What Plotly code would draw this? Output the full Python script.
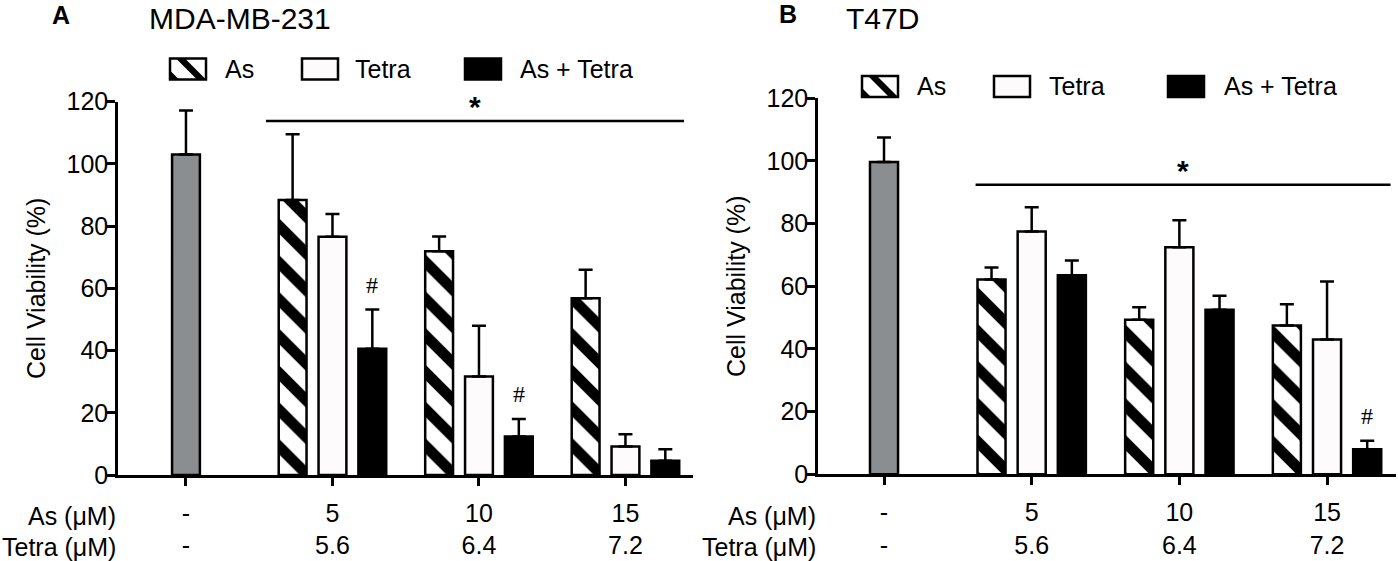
import plotly.graph_objects as go

# ---------------- data ----------------
as_doses = ["-", "5", "10", "15"]
tetra_doses = ["-", "5.6", "6.4", "7.2"]
series_names = ["As", "Tetra", "As + Tetra"]

# Panel A : MDA-MB-231
a_ctrl_mean = [103.0]
a_ctrl_err = [14.2]
a_as_mean = [88.4, 71.9, 56.8]
a_as_err = [21.1, 4.8, 9.2]
a_tetra_mean = [76.6, 31.7, 9.2]
a_tetra_err = [7.3, 16.3, 3.9]
a_combo_mean = [40.6, 12.4, 4.6]
a_combo_err = [12.6, 5.6, 3.7]
a_hash_groups = [0, 1]          # combination bars marked with '#'

# Panel B : T47D
b_ctrl_mean = [99.7]
b_ctrl_err = [7.8]
b_as_mean = [62.2, 49.3, 47.5]
b_as_err = [3.8, 4.0, 6.8]
b_tetra_mean = [77.5, 72.5, 43.0]
b_tetra_err = [7.7, 8.6, 18.5]
b_combo_mean = [63.5, 52.5, 8.0]
b_combo_err = [4.7, 4.5, 2.7]
b_hash_groups = [2]

y_ticks = [0, 20, 40, 60, 80, 100, 120]

# ---------------- style ----------------
W, H = 1398, 561
FONT = "Liberation Sans, Arial, Helvetica, sans-serif"
FS = 25
LW = 2.5
BAR_W = 0.19
STEP = 0.272
GRAY = "#8b8e90"
WHITE = "#fdfbfb"

cats = [f"{a}<br>{t}" for a, t in zip(as_doses, tetra_doses)]


def px(x):
    return x / W


def py(y):
    return 1 - y / H


fig = go.Figure()


def add_panel(xa, ya, ctrl_m, ctrl_e, as_m, as_e, te_m, te_e, co_m, co_e):
    err = lambda e: dict(type="data", array=e, arrayminus=[0] * len(e), symmetric=False,
                         color="black", thickness=LW, width=7)
    line = dict(color="black", width=LW)
    fig.add_bar(x=cats[:1], y=ctrl_m, error_y=err(ctrl_e), width=BAR_W, offset=-BAR_W / 2,
                marker=dict(color=GRAY, line=line), xaxis=xa, yaxis=ya, name="Control",
                showlegend=False)
    fig.add_bar(x=cats[1:], y=as_m, error_y=err(as_e), width=BAR_W, offset=-STEP - BAR_W / 2,
                marker=dict(color="white", line=line,
                            pattern=dict(shape="\\", fgcolor="black", bgcolor="white",
                                         fillmode="replace", fgopacity=1,
                                         size=26, solidity=0.42)),
                xaxis=xa, yaxis=ya, name=series_names[0], showlegend=False)
    fig.add_bar(x=cats[1:], y=te_m, error_y=err(te_e), width=BAR_W, offset=-BAR_W / 2,
                marker=dict(color=WHITE, line=line), xaxis=xa, yaxis=ya,
                name=series_names[1], showlegend=False)
    fig.add_bar(x=cats[1:], y=co_m, error_y=err(co_e), width=BAR_W, offset=STEP - BAR_W / 2,
                marker=dict(color="black", line=line), xaxis=xa, yaxis=ya,
                name=series_names[2], showlegend=False)


add_panel("x", "y", a_ctrl_mean, a_ctrl_err, a_as_mean, a_as_err,
          a_tetra_mean, a_tetra_err, a_combo_mean, a_combo_err)
add_panel("x2", "y2", b_ctrl_mean, b_ctrl_err, b_as_mean, b_as_err,
          b_tetra_mean, b_tetra_err, b_combo_mean, b_combo_err)

xcommon = dict(type="category", categoryorder="array", categoryarray=cats,
               tickmode="array", tickvals=cats, ticktext=cats, automargin=False,
               showline=True, linecolor="black", linewidth=LW, ticks="outside",
               ticklen=8, tickwidth=LW, tickcolor="black", showgrid=False, zeroline=False,
               tickfont=dict(family=FONT, size=FS, color="black"), ticklabelstandoff=6,
               fixedrange=True)
ycommon = dict(range=[0, 120], tickmode="array", tickvals=y_ticks, showline=True,
               automargin=False,
               linecolor="black", linewidth=LW, ticks="outside", ticklen=8, tickwidth=LW,
               tickcolor="black", showgrid=False, zeroline=False,
               tickfont=dict(family=FONT, size=FS, color="black"), ticklabelstandoff=-6,
               title=dict(text="Cell Viability (%)", font=dict(family=FONT, size=FS, color="black"),
                          standoff=14),
               fixedrange=True)

fig.update_layout(
    template="none",
    width=W, height=H, margin=dict(l=0, r=0, t=0, b=0, pad=0), autosize=False,
    paper_bgcolor="white", plot_bgcolor="white", barmode="overlay", showlegend=False,
    font=dict(family=FONT, size=FS, color="black"),
    xaxis=dict(xcommon, domain=[px(118), px(693)], range=[-0.464, 3.461], anchor="y"),
    yaxis=dict(ycommon, domain=[py(475), py(101.7)], anchor="x"),
    xaxis2=dict(xcommon, domain=[px(818), px(1396)], range=[-0.447, 3.467], anchor="y2"),
    yaxis2=dict(ycommon, domain=[py(474.3), py(98.3)], anchor="x2"),
)

shapes = []
ann = []

# significance bars
for xr, yr, x0, x1, yl in [("x", "y", 0.546, 3.40, 113.8), ("x2", "y2", 0.62, 3.43, 92.4)]:
    shapes.append(dict(type="line", xref=xr, yref=yr, x0=x0, x1=x1, y0=yl, y1=yl,
                       line=dict(color="black", width=LW)))
    ann.append(dict(xref=xr, yref=yr, x=(x0 + x1) / 2, y=yl, text="<b>*</b>", showarrow=False,
                    yanchor="bottom", yshift=-4, font=dict(family=FONT, size=30, color="black")))

# '#' markers above combination bars
for xr, yr, groups, m, e in [("x", "y", a_hash_groups, a_combo_mean, a_combo_err),
                             ("x2", "y2", b_hash_groups, b_combo_mean, b_combo_err)]:
    for g in groups:
        ann.append(dict(xref=xr, yref=yr, x=g + 1 + STEP, y=m[g] + e[g], yanchor="middle",
                        yshift=25, text="#", showarrow=False,
                        font=dict(family="Liberation Serif, serif", size=24, color="black")))

# panel letters and titles
for x, y, t, s in [(61, 15, "<b>A</b>", 25), (240, 19, "MDA-MB-231", 30),
                   (788, 14, "<b>B</b>", 25), (883, 19, "T47D", 30)]:
    ann.append(dict(xref="paper", yref="paper", x=px(x), y=py(y), text=t, showarrow=False,
                    xanchor="center", yanchor="middle", font=dict(family=FONT, size=s, color="black")))

# row headers under the axes
for xr in [118, 818]:
    for y, t in [(516, "As (μM)"), (547, "Tetra (μM)")]:
        ann.append(dict(xref="paper", yref="paper", x=px(xr), y=py(y), text=t, showarrow=False,
                        xanchor="right", yanchor="middle",
                        font=dict(family=FONT, size=FS, color="black")))


# legends (drawn swatches)
def swatch(x0, yc, kind):
    w, h = 36, 21
    y0, y1 = yc - h / 2, yc + h / 2
    fill = {"as": "white", "tetra": WHITE, "combo": "black"}[kind]
    shapes.append(dict(type="rect", xref="paper", yref="paper", x0=px(x0), x1=px(x0 + w),
                       y0=py(y1), y1=py(y0), fillcolor=fill, line=dict(color="black", width=LW)))
    if kind == "as":
        polys = [
            [(x0 + 6, y0), (x0 + 15, y0), (x0 + w, y0 + (w - 15)), (x0 + w, y1), (x0 + 27, y1)],
            [(x0, y0 + 12), (x0 + 9, y1), (x0, y1)],
        ]
        for p in polys:
            path = "M " + " L ".join(f"{px(a):.5f},{py(b):.5f}" for a, b in p) + " Z"
            shapes.append(dict(type="path", xref="paper", yref="paper", path=path,
                               fillcolor="black", line=dict(width=0)))


for (xs, yc) in [((170, 223, 302, 353, 465, 518), 69), ((862, 915, 994, 1047, 1168, 1222), 86.5)]:
    swatch(xs[0], yc, "as")
    swatch(xs[2], yc, "tetra")
    swatch(xs[4], yc, "combo")
    for xt, t in [(xs[1], series_names[0]), (xs[3], series_names[1]), (xs[5], series_names[2])]:
        ann.append(dict(xref="paper", yref="paper", x=px(xt), y=py(yc), text=t, showarrow=False,
                        xanchor="left", yanchor="middle",
                        font=dict(family=FONT, size=FS, color="black")))

fig.update_layout(shapes=shapes, annotations=ann)
fig.write_html("out.html", config={"displayModeBar": False},
               post_script="document.body.style.margin='0';document.body.style.overflow='hidden';")
